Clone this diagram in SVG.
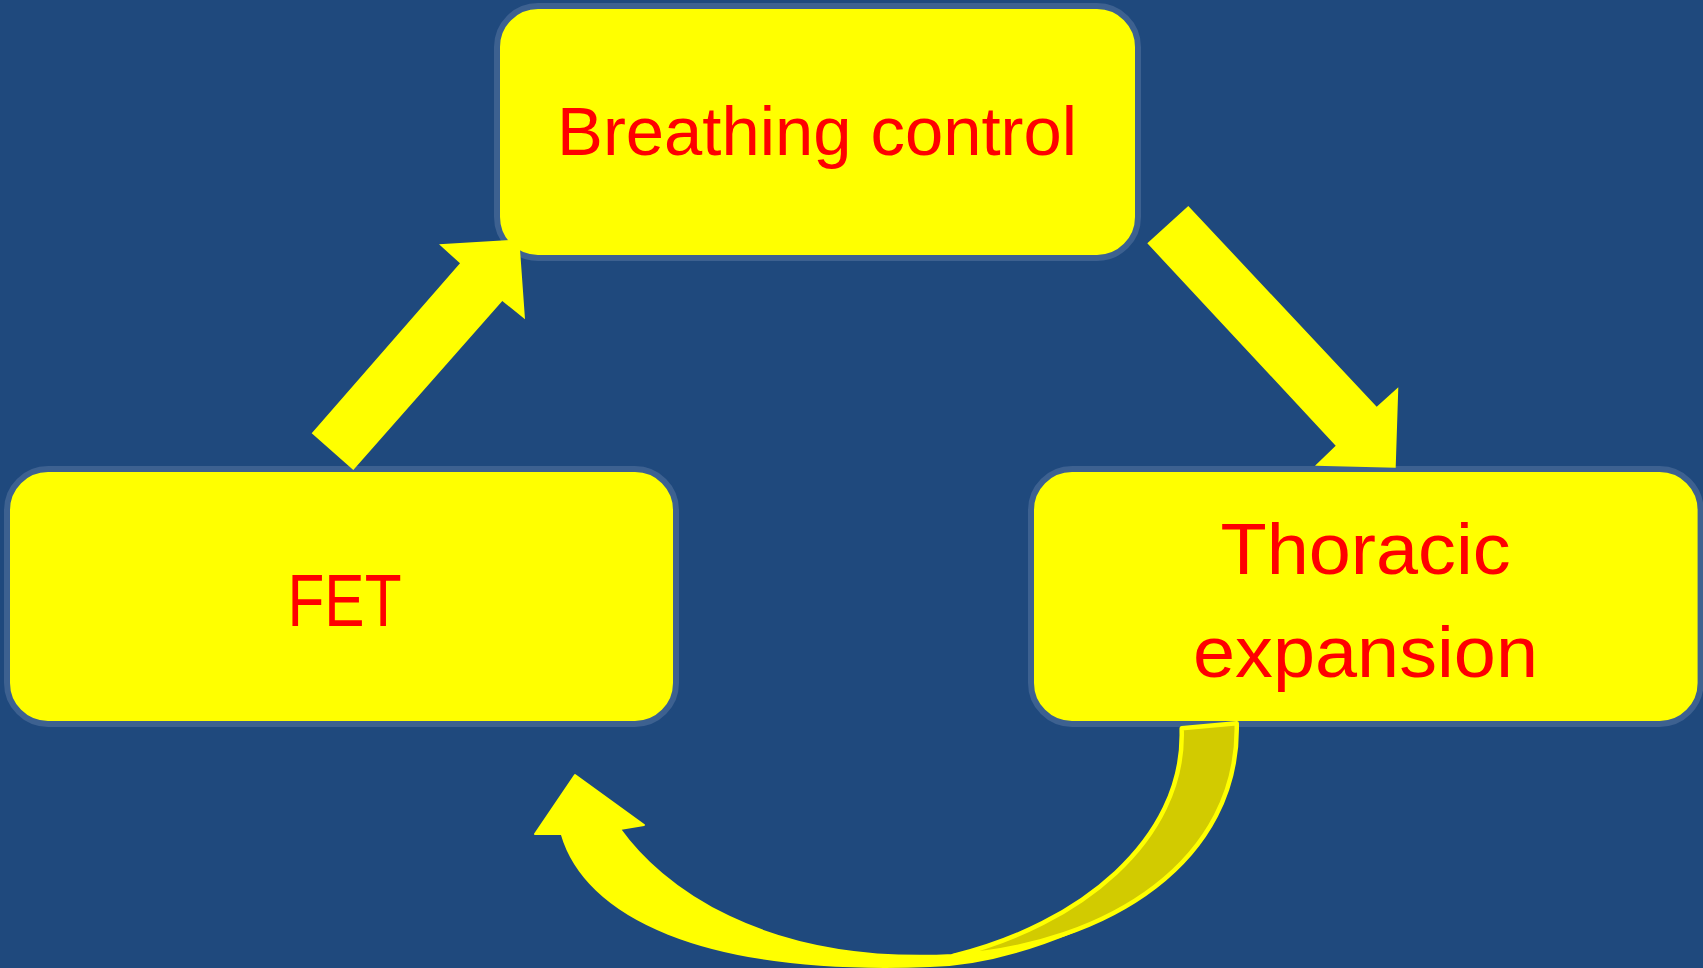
<svg xmlns="http://www.w3.org/2000/svg" width="1703" height="968" viewBox="0 0 1703 968">
<style>
.box{fill:#FFFF00;stroke:#3D6190;stroke-width:6}
.lbl{font-family:"Liberation Sans",Arial,sans-serif;fill:#FF0000;text-anchor:middle}
.arr{fill:#FFFF00}
</style>
<rect x="0" y="0" width="1703" height="968" fill="#1F497D"/>
<g id="node-breathing">
<rect class="box" x="497" y="6" width="641" height="252" rx="41"/>
<text class="lbl" x="817" y="155" font-size="68.5" textLength="520" lengthAdjust="spacingAndGlyphs">Breathing control</text>
</g>
<g id="node-fet">
<rect class="box" x="7" y="469" width="669" height="255" rx="41"/>
<text class="lbl" x="344.5" y="626" font-size="74" textLength="114" lengthAdjust="spacingAndGlyphs">FET</text>
</g>
<g id="node-thoracic">
<rect class="box" x="1031" y="469" width="669.6" height="255" rx="41"/>
<text class="lbl" x="1365.5" y="574" font-size="73" textLength="290" lengthAdjust="spacingAndGlyphs">Thoracic</text>
<text class="lbl" x="1365.5" y="677" font-size="73" textLength="345" lengthAdjust="spacingAndGlyphs">expansion</text>
</g>
<g id="connectors">
<polygon id="arrow-fet-breathing" class="arr" points="311.7,433.3 353.3,470 502.3,301 525,319.3 519.3,239.3 439,244.3 460,263.3"/>
<polygon id="arrow-breathing-thoracic" class="arr" points="1188.3,206 1147.3,243.3 1335.7,445.7 1315,465.7 1395.7,467.7 1398.3,387.3 1376.7,406.7"/>
<g id="arrow-thoracic-fet">
<path d="M620,829 L644,825 L575,775 L535,834 L561.7,834 C585,915 700,975 930,966 C975,965 1025,952 1075,931 L953,955 C760,965 660,885 620,829 Z" fill="#FFFF00" stroke="#FFFF00" stroke-width="2" stroke-linejoin="round"/>
<path d="M1181.7,728.3 L1236.7,723.3 C1240,860 1110,945 953,956 C1080,925 1184,840 1181.7,731.7 Z" fill="#D2CB00" stroke="#FFFF00" stroke-width="4.5" stroke-linejoin="round"/>
</g>
</g>
</svg>
